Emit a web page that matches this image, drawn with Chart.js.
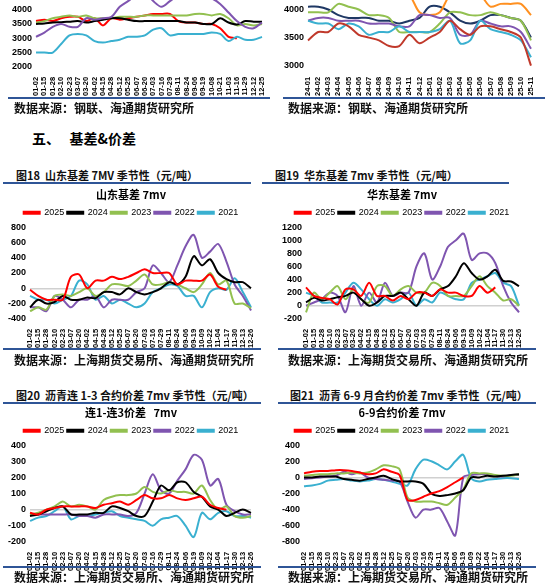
<!DOCTYPE html>
<html><head><meta charset="utf-8">
<script src="https://cdn.jsdelivr.net/npm/chart.js@4.4.1/dist/chart.umd.min.js"></script>
<style>
body{margin:0;width:550px;height:583px;overflow:hidden;background:#fff;position:relative;font-family:"Noto Sans CJK SC",sans-serif;}
.a{position:absolute;}
.src{position:absolute;font-size:12px;font-weight:bold;color:#111;white-space:nowrap;}
.ln{position:absolute;height:2px;background:#2F5597;}
.ft{position:absolute;font-size:11px;font-weight:bold;color:#111;white-space:nowrap;}
</style></head><body>
<div class="a" style="left:8px;top:-14px;width:265px;height:112px"><canvas id="c0"></canvas></div>
<div class="a" style="left:280px;top:-28px;width:262px;height:126px"><canvas id="c1"></canvas></div>
<div class="ln" style="left:8px;top:97px;width:262px"></div>
<div class="ln" style="left:283px;top:97px;width:262px"></div>
<div class="src" style="left:14px;top:99px">数据来源：钢联、海通期货研究所</div>
<div class="src" style="left:288px;top:99px">数据来源：钢联、海通期货研究所</div>
<div class="a" style="left:32px;top:128px;font-size:14px;font-weight:bold">五、&nbsp;&nbsp;&nbsp;基差&amp;价差</div>
<div class="ft" style="left:16px;top:167px">图18&nbsp;&nbsp;山东基差 7MV 季节性（元/吨）</div>
<div class="ft" style="left:275px;top:167px">图19&nbsp;&nbsp;华东基差 7mv 季节性（元/吨）</div>
<div class="ln" style="left:3px;top:182px;width:248px"></div>
<div class="ln" style="left:262px;top:182px;width:247px"></div>
<div class="a" style="left:4px;top:188px;width:258px;height:162px"><canvas id="c2"></canvas></div>
<div class="a" style="left:278px;top:188px;width:252px;height:162px"><canvas id="c3"></canvas></div>
<div class="ln" style="left:3px;top:348px;width:258px"></div>
<div class="ln" style="left:278px;top:348px;width:258px"></div>
<div class="src" style="left:14px;top:351px">数据来源：上海期货交易所、海通期货研究所</div>
<div class="src" style="left:288px;top:351px">数据来源：上海期货交易所、海通期货研究所</div>
<div class="ft" style="left:16px;top:387px">图20&nbsp;&nbsp;沥青连 1-3 合约价差 7mv 季节性（元/吨）</div>
<div class="ft" style="left:290px;top:387px">图21&nbsp;&nbsp;沥青 6-9 月合约价差 7mv 季节性（元/吨）</div>
<div class="ln" style="left:3px;top:402px;width:258px"></div>
<div class="ln" style="left:278px;top:402px;width:258px"></div>
<div class="a" style="left:4px;top:406px;width:258px;height:167px"><canvas id="c4"></canvas></div>
<div class="a" style="left:278px;top:406px;width:252px;height:167px"><canvas id="c5"></canvas></div>
<div class="ln" style="left:3px;top:566px;width:258px"></div>
<div class="ln" style="left:278px;top:566px;width:258px"></div>
<div class="src" style="left:14px;top:568px">数据来源：上海期货交易所、海通期货研究所</div>
<div class="src" style="left:288px;top:568px">数据来源：上海期货交易所、海通期货研究所</div>
<script>
const topLeftLabels=["01-02","01-15","01-28","02-10","02-23","03-07","03-20","04-02","04-15","04-28","05-12","05-25","06-07","06-20","07-03","07-16","07-29","08-11","08-24","09-06","09-19","10-08","10-21","11-03","11-16","11-29","12-12","12-25"];
const tlRed=[3600,3650,3600,3700,3750,3750,3600,3700,3450,3700,3650,3700,3750,3800,3850,3850,3850,3600,3550,3550,3500,3500,3350,3050,3000,null,null,null];
const tlBlack=[3500,3520,3550,3560,3580,3600,3550,3600,3650,3700,3700,3650,3600,3600,3600,3600,3600,3600,3550,3550,3500,3500,3700,3550,3480,3600,3580,3580];
const tlGreen=[3550,3600,3700,3750,3800,3750,3800,3700,3700,3700,3750,3750,3750,3800,3800,3800,3800,3800,3800,3850,3850,3800,3850,3700,3450,3500,3450,3500];
const tlPurple=[3050,3200,3400,3500,3400,3400,3700,3650,3700,3750,4100,4300,4500,4600,4300,4100,4300,4500,4500,4500,4500,4400,4200,3900,3600,3400,3350,3550];
const tlCyan=[2500,2500,2500,2800,3100,3150,3100,2900,2850,2900,2950,3050,3050,3100,3300,3350,3100,3150,3150,3150,3150,3200,3150,2900,3050,2950,2950,3050];

const topRightLabels=["24-01","24-02","24-03","24-04","24-05","24-06","24-07","24-08","24-09","24-10","24-11","24-12","25-01","25-02","25-03","25-04","25-05","25-06","25-07","25-08","25-09","25-10","25-11"];
const trNavy=[4050,4050,4000,3900,3850,3850,3850,3800,3800,3750,3800,3850,4050,4050,3950,3800,3750,3800,3900,3900,3850,3800,3500];
const trOrange=[4250,4250,4250,4250,4250,4250,4250,4250,4250,4250,4250,3950,3900,3950,4250,4250,4250,4250,4050,4100,4100,4100,3900];
const trGreen=[3950,3950,3950,4100,4050,4000,3900,3900,3850,3600,3600,3600,3600,3750,3950,3950,3900,3900,3950,3900,3850,3800,3450];
const trPurple=[3800,3850,3850,3800,3800,3800,3750,3750,3750,3700,3700,3900,3900,3850,3850,3550,3550,3800,3750,3700,3700,3600,3300];
const trCyan=[3800,3750,3750,3650,3750,3700,3550,3600,3600,3700,3600,3600,3600,3650,3800,3400,3450,3800,3650,3600,3550,3450,3150];
const trRed=[3450,3600,3600,3750,3700,3550,3500,3450,3350,3350,3550,3400,3500,3600,3800,3650,3550,3700,3700,3650,3600,3500,3000];

const seasonLabels=["01-02","01-15","01-28","02-10","02-23","03-07","03-20","04-02","04-15","04-28","05-12","05-25","06-07","06-20","07-03","07-16","07-29","08-11","08-24","09-06","09-19","10-09","10-22","11-04","11-17","11-30","12-13","12-26"];
const years=["2025","2024","2023","2022","2021"];

const sd2025=[-20,-100,-150,-150,-150,150,180,0,100,100,150,120,150,200,250,200,200,200,50,100,100,100,180,20,-20,null,null,null];
const sd2024=[-250,-150,-200,-180,-100,-150,-150,-120,-130,-50,-50,-80,0,-50,-80,-50,0,80,50,150,420,300,380,200,120,80,80,0];
const sd2023=[-300,-250,-280,-100,-80,-100,-50,0,-100,-50,50,50,30,100,180,50,50,80,50,0,-50,50,200,50,100,-200,-200,-260];
const sd2022=[-250,-250,-300,-100,-150,-250,-150,-150,-100,-250,-150,-150,-150,-50,0,300,200,80,300,550,700,400,480,580,350,50,-100,-290];
const sd2021=[-100,-150,-150,-200,-150,-100,100,50,-150,-100,-200,-150,-200,-250,-200,-50,0,50,30,-100,-100,-250,-50,0,-20,130,-50,-250];

const hd2025=[280,150,120,100,20,250,250,150,350,150,150,80,150,100,200,200,150,250,200,200,150,150,300,200,280,null,null,null];
const hd2024=[50,120,80,100,130,150,200,100,0,50,150,150,200,100,0,200,150,250,300,450,650,500,400,450,550,380,370,300];
const hd2023=[-100,200,100,200,300,100,250,100,50,300,300,150,250,300,200,200,350,300,150,150,150,300,450,300,200,80,100,0];
const hd2022=[0,50,100,200,150,-100,300,0,200,50,350,150,200,200,600,800,400,600,900,1000,1100,700,800,800,650,300,50,-100];
const hd2021=[200,150,50,50,50,200,350,250,100,0,100,50,100,200,0,100,50,200,150,100,100,350,400,450,500,350,300,0];

const s13_2025=[-20,-30,0,10,20,20,20,20,10,30,40,50,30,60,90,70,70,90,70,60,70,80,30,10,0,null,null,null];
const s13_2024=[-40,-30,-10,10,20,-30,-30,-30,-20,-20,20,10,-10,-40,-40,50,150,120,170,170,110,80,20,0,-40,-20,0,-20];
const s13_2023=[-30,-20,0,20,50,20,30,20,0,60,80,90,90,100,140,110,100,120,110,110,100,150,60,0,20,-40,-50,-40];
const s13_2022=[-30,-30,-30,-30,-30,-30,-40,-40,-50,-30,-30,-30,-40,-20,100,220,120,100,180,250,340,310,150,190,30,-10,-30,-30];
const s13_2021=[-70,-50,-40,-10,20,-60,-40,-40,-30,-20,-10,-40,-50,-60,-70,-100,-60,-50,-40,-100,-170,-20,-60,-20,-10,-40,-40,-50];

const s69_2025=[50,70,80,80,90,90,80,60,40,50,100,70,30,-280,-280,-240,-200,-170,-120,-60,0,null,null,null,null,null,null,null];
const s69_2024=[0,0,10,10,10,-20,-30,-40,-20,0,20,-20,-50,-50,-50,-80,-200,-230,-220,-200,-160,0,0,20,10,20,30,40];
const s69_2023=[20,30,40,40,50,50,60,50,60,100,150,140,100,-250,-300,-300,-300,-320,-340,-250,-150,50,50,50,30,20,20,40];
const s69_2022=[-20,-10,0,10,20,70,40,60,0,-20,-30,-40,-50,-300,-500,-400,-400,-380,-550,-720,0,30,40,40,20,10,30,30];
const s69_2021=[-110,-100,-80,-40,-30,-20,-40,-50,-40,-20,-30,-50,-80,-100,100,220,200,150,100,200,280,-10,-50,-30,-20,-10,-10,-20];

const yearColors=["#FF0000","#000000","#92C050","#7F55B0","#3AB0D0"];
const F='"Liberation Sans",Arial,sans-serif';
Chart.defaults.font.family=F;
Chart.defaults.color="#000";
Chart.defaults.animation=false;

function ds(arrs,colors,labels){return arrs.map((d,i)=>({label:labels?labels[i]:String(i),data:d,borderColor:colors[i],backgroundColor:colors[i],borderWidth:2,pointRadius:0,tension:0.3,spanGaps:false}));}
function xAxis(){return {grid:{display:false},border:{display:false},ticks:{autoSkip:false,minRotation:90,maxRotation:90,font:{size:7.5,weight:'bold'},padding:2}};}
function yAxis(min,max,step,first){const f=first===undefined?min:first;return {min,max,
 afterBuildTicks:s=>{const t=[];for(let v=f;v<=max+1e-6;v+=step)t.push({value:v});s.ticks=t;},
 grid:{drawTicks:false,color:c=>c.tick&&c.tick.value===0?'#d0d0d0':'rgba(0,0,0,0)',lineWidth:1.5},border:{display:false},
 ticks:{autoSkip:false,font:{size:9,weight:'bold'},padding:4,callback:v=>String(v)}};}

function topChart(id,labels,arrs,colors,min,max,first){
 new Chart(document.getElementById(id),{type:'line',data:{labels,datasets:ds(arrs,colors)},
 options:{responsive:true,maintainAspectRatio:false,layout:{padding:{top:0,right:6}},plugins:{legend:{display:false},title:{display:false}},
 scales:{x:xAxis(),y:yAxis(min,max,500,first)}}});
}
topChart('c0',topLeftLabels,[tlCyan,tlPurple,tlBlack,tlGreen,tlRed],["#3AB0D0","#7F55B0","#000000","#92C050","#FF0000"],2000,4500);
topChart('c1',topRightLabels,[trRed,trCyan,trPurple,trGreen,trOrange,trNavy],["#C0392B","#3AB0D0","#7F55B0","#92C050","#FF9020","#1F3864"],2980,4500,3000);

function seasonChart(id,title,arrs,min,max,step){
 new Chart(document.getElementById(id),{type:'line',data:{labels:seasonLabels,datasets:ds(arrs,yearColors,years)},
 options:{responsive:true,maintainAspectRatio:false,layout:{padding:{right:4}},
 plugins:{title:{display:true,text:title,font:{size:11,weight:'bold',family:'"Noto Sans CJK SC",sans-serif'},padding:{top:0,bottom:4}},
 legend:{display:true,labels:{boxWidth:16,boxHeight:2,font:{size:9},padding:3}}},
 scales:{x:xAxis(),y:yAxis(min,max,step)}}});
}
seasonChart('c2','山东基差 7mv',[sd2025,sd2024,sd2023,sd2022,sd2021],-400,800,200);
seasonChart('c3','华东基差 7mv',[hd2025,hd2024,hd2023,hd2022,hd2021],-200,1200,200);
seasonChart('c4','连1-连3价差   7mv',[s13_2025,s13_2024,s13_2023,s13_2022,s13_2021],-200,400,100);
seasonChart('c5','6-9合约价差 7mv',[s69_2025,s69_2024,s69_2023,s69_2022,s69_2021],-800,400,200);
</script></body></html>
